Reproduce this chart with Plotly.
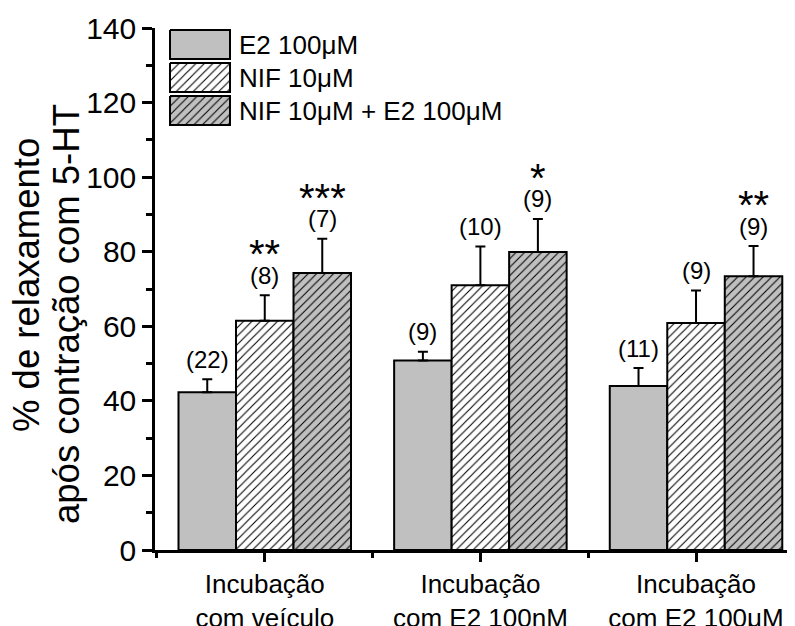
import plotly.graph_objects as go

# ---- data ----
groups = ["Incubação<br>com veículo", "Incubação<br>com E2 100nM", "Incubação<br>com E2 100μM"]
series_names = ["E2 100μM", "NIF 10μM", "NIF 10μM + E2 100μM"]
e2_vals = [42.3, 50.8, 44.0]
e2_err = [3.5, 2.4, 4.8]
nif_vals = [61.5, 71.0, 60.9]
nif_err = [6.8, 10.4, 8.7]
combo_vals = [74.3, 79.9, 73.4]
combo_err = [9.2, 8.9, 8.1]
e2_n = ["(22)", "(9)", "(11)"]
nif_n = ["(8)", "(10)", "(9)"]
combo_n = ["(7)", "(9)", "(9)"]
e2_sig = ["", "", ""]
nif_sig = ["**", "", ""]
combo_sig = ["***", "*", "**"]
y_ticks = [0, 20, 40, 60, 80, 100, 120, 140]

FONT = "Liberation Sans, Arial, sans-serif"
BARGAP = 0.2
GRAY = "#c0c0c0"

xs = list(range(len(groups)))
vals = [e2_vals, nif_vals, combo_vals]
errs = [e2_err, nif_err, combo_err]
ns = [e2_n, nif_n, combo_n]
sigs = [e2_sig, nif_sig, combo_sig]
patterns = [
    dict(shape=""),
    dict(shape="/", fgcolor="black", bgcolor="white", size=6, solidity=0.18, fillmode="replace"),
    dict(shape="/", fgcolor="black", bgcolor=GRAY, size=6, solidity=0.18, fillmode="replace"),
]
colors = [GRAY, "white", GRAY]

fig = go.Figure()
for j in range(3):
    fig.add_trace(go.Bar(
        x=xs, y=vals[j], name=series_names[j],
        marker=dict(color=colors[j], line=dict(color="black", width=2), pattern=patterns[j]),
        error_y=dict(type="data", symmetric=False, array=errs[j], arrayminus=[0] * len(xs),
                     color="black", thickness=2, width=5),
        showlegend=False,
    ))

# annotations: n and significance
bw = (1 - BARGAP) / 3
annotations = []
for j in range(3):
    for i in xs:
        xpos = i + (j - 1) * bw
        top = vals[j][i] + errs[j][i]
        annotations.append(dict(x=xpos, y=top, xref="x", yref="y", text=ns[j][i],
                                showarrow=False, yanchor="middle", yshift=20,
                                font=dict(family=FONT, size=24, color="black")))
        if sigs[j][i]:
            annotations.append(dict(x=xpos, y=top, xref="x", yref="y", text=sigs[j][i],
                                    showarrow=False, yanchor="middle", yshift=41,
                                    font=dict(family=FONT, size=40, color="black")))

# custom legend (overlay axes in plot-area pixels)
for j in range(3):
    y0 = 2 + 33 * j
    y1 = y0 + 29
    fig.add_trace(go.Scatter(
        x=[15, 75, 75, 15, 15], y=[y0, y0, y1, y1, y0], xaxis="x2", yaxis="y2",
        mode="lines", fill="toself", fillcolor=colors[j],
        fillpattern=patterns[j] if j > 0 else None,
        line=dict(color="black", width=2), showlegend=False, hoverinfo="skip",
    ))
    annotations.append(dict(x=82, y=y0 + 14.5, xref="x2", yref="y2", text=series_names[j],
                            showarrow=False, xanchor="left", yanchor="middle",
                            font=dict(family=FONT, size=26, color="black")))

# y title, two lines
annotations.append(dict(x=-129 / 640, y=(542 - 277) / 522, xref="paper", yref="paper",
                        text="% de relaxamento", textangle=-90, showarrow=False,
                        xanchor="center", yanchor="middle",
                        font=dict(family=FONT, size=36.5, color="black")))
annotations.append(dict(x=-89 / 640, y=(542 - 306) / 522, xref="paper", yref="paper",
                        text="após contração com 5-HT", textangle=-90, showarrow=False,
                        xanchor="center", yanchor="middle",
                        font=dict(family=FONT, size=36.5, color="black")))

# page body has an 8px default margin: size/offset the figure so the view matches
fig.update_layout(
    template="none",
    width=787, height=618,
    margin=dict(l=147, r=0, t=20, b=76, pad=0, autoexpand=False),
    paper_bgcolor="white", plot_bgcolor="white",
    barmode="group", bargap=BARGAP, bargroupgap=0,
    font=dict(family=FONT, color="black"),
    annotations=annotations,
    xaxis=dict(
        range=[-0.509, 2.459], tickvals=xs, ticktext=groups, automargin=False,
        ticks="outside", ticklen=9, tickwidth=2.5, tickcolor="black",
        showline=True, linecolor="black", linewidth=2.5,
        showgrid=False, zeroline=False,
        tickfont=dict(family=FONT, size=26, color="black"),
        minor=dict(tickvals=[-0.5, 0.5, 1.5], ticks="outside", ticklen=5, tickwidth=2.5,
                   tickcolor="black", showgrid=False),
    ),
    yaxis=dict(
        range=[0, 140], tickvals=y_ticks, automargin=False,
        ticks="outside", ticklen=10, tickwidth=2.5, tickcolor="black",
        showline=True, linecolor="black", linewidth=2.5,
        showgrid=False, zeroline=False,
        tickfont=dict(family=FONT, size=30, color="black"),
        minor=dict(dtick=10, ticks="outside", ticklen=6, tickwidth=2.5, tickcolor="black", showgrid=False),
    ),
    xaxis2=dict(overlaying="x", anchor="y2", range=[0, 640], visible=False, fixedrange=True),
    yaxis2=dict(overlaying="y", anchor="x2", range=[522, 0], visible=False, fixedrange=True),
)

fig.write_html("out.html")
